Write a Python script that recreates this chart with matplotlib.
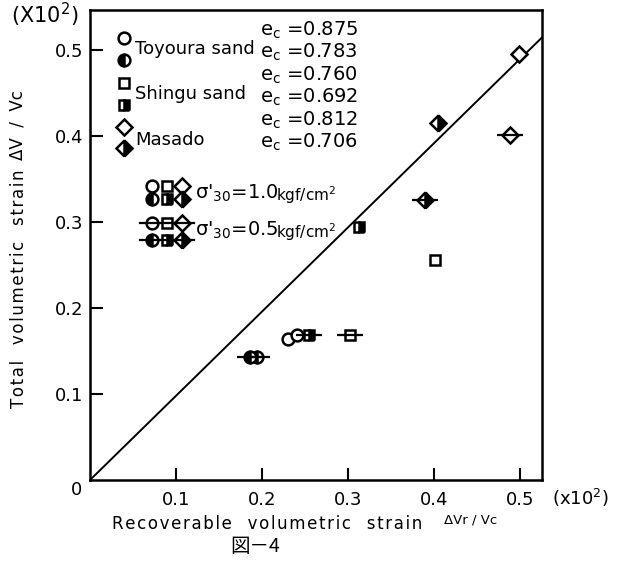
import numpy as np
import matplotlib.pyplot as plt

# readings (x10^-2 units)
toyoura_open_10_x = [0.230, 0.241]
toyoura_open_10_y = [0.164, 0.169]
toyoura_half_05_x = [0.186, 0.194]
toyoura_half_05_y = [0.143, 0.143]
shingu_open_10_x = [0.401]
shingu_open_10_y = [0.256]
shingu_half_10_x = [0.312]
shingu_half_10_y = [0.295]
shingu_open_05_x = [0.302]
shingu_open_05_y = [0.169]
shingu_half_05_x = [0.254]
shingu_half_05_y = [0.169]
masado_open_10_x = [0.498]
masado_open_10_y = [0.496]
masado_half_10_x = [0.404]
masado_half_10_y = [0.415]
masado_open_05_x = [0.488]
masado_open_05_y = [0.401]
masado_half_05_x = [0.389]
masado_half_05_y = [0.326]

line_x = [0.0, 0.527]
line_y = [0.0, 0.517]

ticks = [0.1, 0.2, 0.3, 0.4, 0.5]
tick_labels = ["0.1", "0.2", "0.3", "0.4", "0.5"]
materials = ["Toyoura sand", "Shingu sand", "Masado"]
ec_values = ["0.875", "0.783", "0.760", "0.692", "0.812", "0.706"]

W, H = 618, 564
fig = plt.figure(figsize=(W / 100, H / 100), dpi=100)
ax = fig.add_axes([90 / W, 84 / H, 452 / W, 470 / H])


def px(x, y):
    return x / W, 1 - y / H


def spaced(s):
    # the scanned lettering is spread out a little
    return "\u200a".join(s)


style = {
    "circle_o": dict(marker="o", ms=8.5, mfc="white", mec="black"),
    "circle_h": dict(marker="o", ms=8.5, mfc="black", mfcalt="white", fillstyle="left", mec="black"),
    "square_o": dict(marker="s", ms=6.5, mfc="white", mec="black"),
    "square_h": dict(marker="s", ms=6.5, mfc="black", mfcalt="white", fillstyle="right", mec="black"),
    "diam_o": dict(marker="D", ms=8, mfc="white", mec="black"),
    "diam_h": dict(marker="D", ms=8, mfc="black", mfcalt="white", fillstyle="right", mec="black"),
}

series = [
    (toyoura_open_10_x, toyoura_open_10_y, "circle_o", False),
    (toyoura_half_05_x, toyoura_half_05_y, "circle_h", True),
    (shingu_open_10_x, shingu_open_10_y, "square_o", False),
    (shingu_half_10_x, shingu_half_10_y, "square_h", False),
    (shingu_open_05_x, shingu_open_05_y, "square_o", True),
    (shingu_half_05_x, shingu_half_05_y, "square_h", True),
    (masado_open_10_x, masado_open_10_y, "diam_o", False),
    (masado_half_10_x, masado_half_10_y, "diam_h", False),
    (masado_open_05_x, masado_open_05_y, "diam_o", True),
    (masado_half_05_x, masado_half_05_y, "diam_h", True),
]

ax.plot(line_x, line_y, color="black", lw=1.4, zorder=2)
for xs, ys, key, bar in series:
    ax.plot(xs, ys, ls="none", mew=1.8, zorder=3, **style[key])
    if bar:
        ax.plot(xs, ys, ls="none", marker="_", ms=19, mew=1.6, color="black", zorder=4)

ax.set_xlim(0, 0.525)
ax.set_ylim(0, 0.547)
ax.set_xticks(ticks)
ax.set_xticklabels(tick_labels)
ax.set_yticks(ticks)
ax.set_yticklabels(tick_labels)
ax.tick_params(direction="in", length=9, width=1.5, labelsize=13)
ax.tick_params(axis="x", pad=8)
ax.tick_params(axis="y", pad=5)
for s in ax.spines.values():
    s.set_linewidth(1.8)

fig.text(*px(45, 15), "(X10$^2$)", fontsize=15, ha="center", va="center")
fig.text(*px(552, 498), "(x10$^2$)", fontsize=13, ha="left", va="center")
fig.text(*px(77, 490), "0", fontsize=13, ha="center", va="center")

fig.text(*px(112, 524), spaced("Recoverable") + "   " + spaced("volumetric") + "   " + spaced("strain"),
         fontsize=12, ha="left", va="center")
fig.text(*px(444, 520), "ΔVr / Vc", fontsize=9.5, ha="left", va="center")
fig.text(*px(19, 408), spaced("Total") + "   " + spaced("volumetric") + "   " + spaced("strain"),
         fontsize=12, rotation=90, rotation_mode="anchor", ha="left", va="center")
fig.text(*px(18, 160), "ΔV  /  Vc", fontsize=12, rotation=90,
         rotation_mode="anchor", ha="left", va="center")
fig.text(*px(255, 546), "図－4", fontsize=14, ha="center", va="center",
         family=["Noto Sans CJK JP", "DejaVu Sans"])

# material legend
keys = ["circle_o", "circle_h", "square_o", "square_h", "diam_o", "diam_h"]
mark_y = [38, 60, 83, 105, 127, 148]
for k, yy in zip(keys, mark_y):
    ax.plot(*px(124, yy), ls="none", mew=1.8, transform=fig.transFigure, clip_on=False, **style[k])
for name, yy in zip(materials, [49, 94, 140]):
    fig.text(*px(135, yy), name, fontsize=13, ha="left", va="center")
for val, yy in zip(ec_values, [30, 52, 75, 97, 120, 142]):
    fig.text(*px(260, yy), "e$_\\mathrm{c}$ =" + val, fontsize=14, ha="left", va="center")

# confining pressure legend
rows = [("1.0", 186, 199, False, 193), ("0.5", 223, 240, True, 230)]
for val, y_open, y_half, bar, y_txt in rows:
    for k, xx in zip(["circle_o", "square_o", "diam_o"], [152, 167, 182]):
        ax.plot(*px(xx, y_open), ls="none", mew=1.8, transform=fig.transFigure, clip_on=False, **style[k])
    for k, xx in zip(["circle_h", "square_h", "diam_h"], [152, 167, 182]):
        ax.plot(*px(xx, y_half), ls="none", mew=1.8, transform=fig.transFigure, clip_on=False, **style[k])
    if bar:
        for yy in (y_open, y_half):
            x0, y0 = px(140, yy)
            x1, _ = px(194, yy)
            ax.plot([x0, x1], [y0, y0], color="black", lw=1.6, transform=fig.transFigure, clip_on=False)
    fig.text(*px(195, y_txt), "σ$'_{\\mathrm{30}}$=" + val, fontsize=14, ha="left", va="center")
    fig.text(*px(276, y_txt + 2), "kgf/cm$^2$", fontsize=11, ha="left", va="center")

fig.savefig("out.png", dpi=100)
